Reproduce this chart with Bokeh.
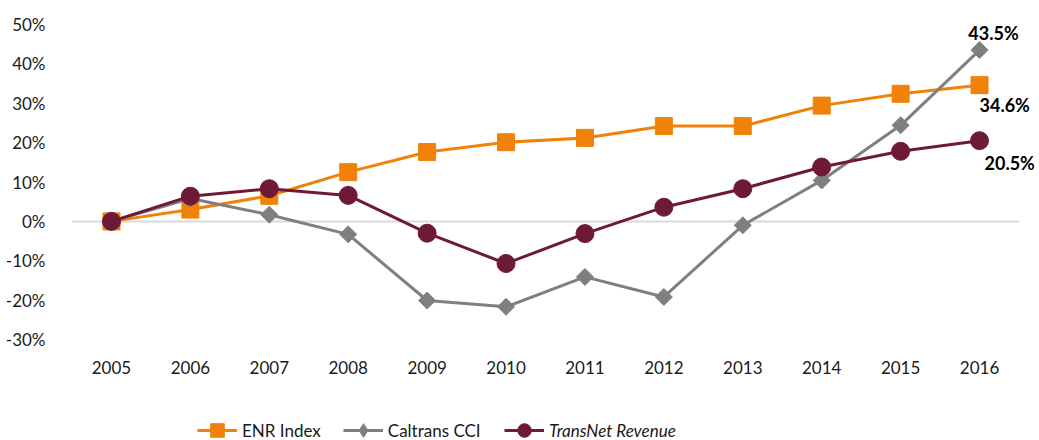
import math
from bokeh.plotting import figure
from bokeh.layouts import column
from bokeh.models import Legend, LegendItem, FactorRange, FixedTicker, Label
from bokeh.embed import file_html
from bokeh.resources import INLINE

years = ["2005", "2006", "2007", "2008", "2009", "2010", "2011", "2012", "2013", "2014", "2015", "2016"]
enr_index = [0.0, 3.0, 6.5, 12.5, 17.6, 20.1, 21.2, 24.2, 24.2, 29.4, 32.4, 34.6]
caltrans_cci = [0.0, 5.8, 1.7, -3.3, -20.1, -21.7, -14.1, -19.2, -1.0, 10.4, 24.4, 43.5]
transnet_revenue = [0.0, 6.4, 8.3, 6.6, -3.0, -10.7, -3.1, 3.6, 8.3, 13.8, 17.8, 20.5]
y_ticks = [-30, -20, -10, 0, 10, 20, 30, 40, 50]
series_names = ["ENR Index", "Caltrans CCI", "TransNet Revenue"]

ORANGE = "#F0820A"
GRAY = "#7F7F7F"
MAROON = "#6E1A37"
FONT = "Lato"

# ---------------- main chart ----------------
p = figure(width=1039, height=390,
           x_range=FactorRange(*years, range_padding=0.26, range_padding_units="absolute"),
           y_range=(-30, 50), output_backend="svg", toolbar_location=None,
           min_border_left=51, min_border_right=0, min_border_top=24, min_border_bottom=51)
p.outline_line_color = None
p.background_fill_color = "white"
p.border_fill_color = "white"
p.xgrid.grid_line_color = None
p.ygrid.grid_line_color = None

for ax in (p.xaxis, p.yaxis):
    ax.axis_line_color = None
    ax.major_tick_line_color = None
    ax.minor_tick_line_color = None
    ax.major_label_text_font = FONT
    ax.major_label_text_font_size = "17px"
    ax.major_label_text_color = "#1a1a1a"
p.xaxis.major_label_standoff = 15
p.yaxis.major_label_standoff = 0
p.yaxis.ticker = FixedTicker(ticks=y_ticks)
p.yaxis.major_label_overrides = {t: f"{t}%" for t in y_ticks}

# zero line spanning the category band (synthetic coordinates 0 .. n)
p.line([0, len(years)], [0, 0], line_color="#D9D9D9", line_width=2)

line_kw = dict(line_width=3)
p.line(years, enr_index, line_color=ORANGE, **line_kw)
p.scatter(years, enr_index, marker="square", size=17, fill_color=ORANGE, line_color=ORANGE)
p.line(years, caltrans_cci, line_color=GRAY, **line_kw)
p.scatter(years, caltrans_cci, marker="square", angle=math.pi / 4, size=12,
          fill_color=GRAY, line_color=GRAY)
p.line(years, transnet_revenue, line_color=MAROON, **line_kw)
p.scatter(years, transnet_revenue, marker="circle", size=18, fill_color=MAROON, line_color=MAROON)

last_x = len(years) - 0.5  # synthetic centre of the last category
lab_kw = dict(text_font=FONT, text_font_size="18px", text_font_style="bold",
              text_color="black", text_baseline="middle")
p.add_layout(Label(x=last_x, y=caltrans_cci[-1], text=f"{caltrans_cci[-1]}%",
                   x_offset=14, y_offset=17, text_align="center", **lab_kw))
p.add_layout(Label(x=last_x, y=enr_index[-1], text=f"{enr_index[-1]}%",
                   x_offset=0, y_offset=-20, text_align="left", **lab_kw))
p.add_layout(Label(x=last_x, y=transnet_revenue[-1], text=f"{transnet_revenue[-1]}%",
                   x_offset=5, y_offset=-22, text_align="left", **lab_kw))

# ---------------- legend strip ----------------
# same series drawn outside the visible y-range, so only the legend shows
q = figure(width=1039, height=50, x_range=FactorRange(*years), y_range=(1000, 1001),
           output_backend="svg", toolbar_location=None, x_axis_type=None, y_axis_type=None,
           min_border=0, min_border_left=0, min_border_right=0, min_border_top=0, min_border_bottom=0)
q.outline_line_color = None
q.xgrid.grid_line_color = None
q.ygrid.grid_line_color = None

g1 = [q.line(years, enr_index, line_color=ORANGE, line_width=3),
      q.scatter(years, enr_index, marker="square", size=14, fill_color=ORANGE, line_color=ORANGE)]
g2 = [q.line(years, caltrans_cci, line_color=GRAY, line_width=3),
      q.scatter(years, caltrans_cci, marker="diamond", size=17,
                fill_color=GRAY, line_color=GRAY)]
g3 = [q.line(years, transnet_revenue, line_color=MAROON, line_width=3),
      q.scatter(years, transnet_revenue, marker="circle", size=14, fill_color=MAROON, line_color=MAROON)]

leg_kw = dict(orientation="horizontal", padding=0, margin=0, border_line_color=None,
              background_fill_alpha=0, label_text_font=FONT, label_text_font_size="17px",
              label_text_color="#1a1a1a", glyph_width=40, glyph_height=34,
              label_standoff=5, spacing=22)
leg1 = Legend(items=[LegendItem(label=series_names[0], renderers=g1),
                     LegendItem(label=series_names[1], renderers=g2)],
              location=(146, -7), **leg_kw)
leg2 = Legend(items=[LegendItem(label=series_names[2], renderers=g3)],
              location=(453, -7), label_text_font_style="italic", **leg_kw)
q.add_layout(leg1)
q.add_layout(leg2)

layout = column(p, q, spacing=0)
open("out.html", "w").write(file_html(layout, INLINE))
